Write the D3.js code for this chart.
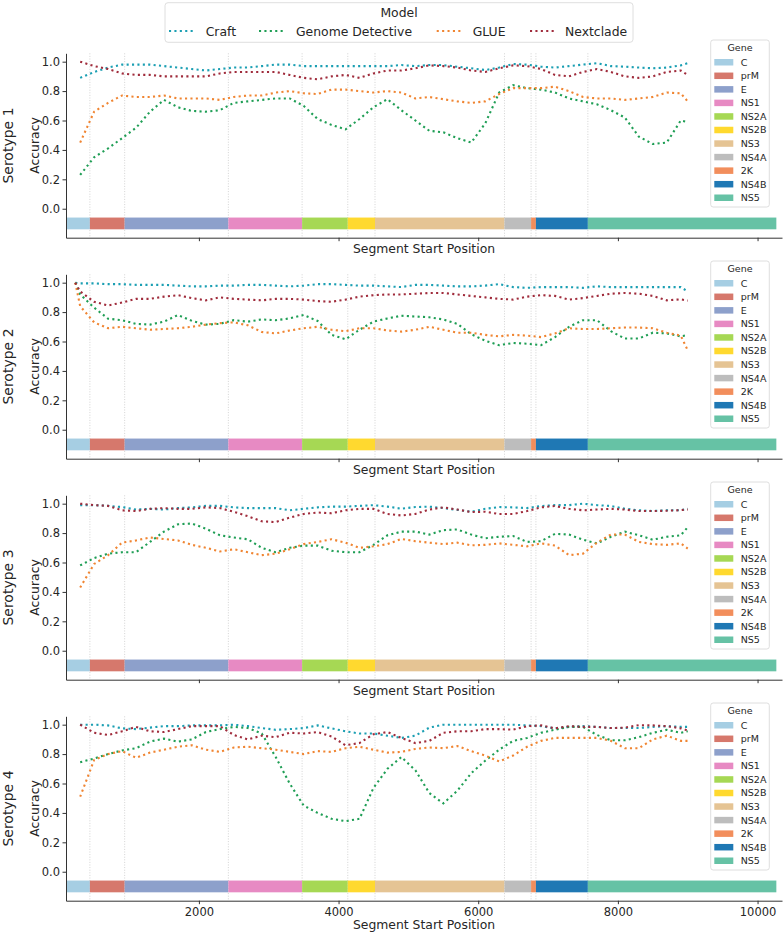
<!DOCTYPE html>
<html lang="en">
<head>
<meta charset="UTF-8">
<title>Accuracy by segment start position</title>
<script src="https://d3js.org/d3.v7.min.js"></script>
<style>
  body { margin: 0; background: #fff; }
  svg text { font-family: "DejaVu Sans", sans-serif; fill: #262626; }
</style>
</head>
<body>
<div id="chart"></div>
<script>
// segment start positions (x values shared by the lines)
var positions = [300, 500, 700, 900, 1100, 1300, 1500, 1700, 1900, 2100, 2300, 2500, 2700, 2900, 3100,
  3300, 3500, 3700, 3900, 4100, 4300, 4500, 4700, 4900, 5100, 5300, 5500, 5700, 5900, 6100, 6300,
  6500, 6700, 6900, 7100, 7300, 7500, 7700, 7900, 8100, 8300, 8500, 8700, 8900, 9000];
// serotype 2 starts a little earlier
var positions2 = [230, 300, 500, 700, 900, 1100, 1300, 1500, 1700, 1900, 2100, 2300, 2500, 2700, 2900, 3100,
  3300, 3500, 3700, 3900, 4100, 4300, 4500, 4700, 4900, 5100, 5300, 5500, 5700, 5900, 6100, 6300,
  6500, 6700, 6900, 7100, 7300, 7500, 7700, 7900, 8100, 8300, 8500, 8700, 8900, 9000];

var models = ["Craft", "Genome Detective", "GLUE", "Nextclade"];
var modelColors = ["#1b9fb3", "#1f9e55", "#f08532", "#a02c3c"];
var serotypes = ["Serotype 1", "Serotype 2", "Serotype 3", "Serotype 4"];

// genes along the genome
var genes = ["C", "prM", "E", "NS1", "NS2A", "NS2B", "NS3", "NS4A", "2K", "NS4B", "NS5"];
var geneStarts = [97, 439, 937, 2422, 3478, 4132, 4522, 6376, 6757, 6826, 7570];
var geneEnds = [439, 937, 2422, 3478, 4132, 4522, 6376, 6757, 6826, 7570, 10269];
var geneColors = ["#a6cee3", "#d6786c", "#8da0cb", "#e78ac3", "#a6d854", "#ffd92f", "#e5c494",
  "#bdbdbd", "#f28e5c", "#1f78b4", "#66c2a5"];

var yTicks = [0.0, 0.2, 0.4, 0.6, 0.8, 1.0];
var xTicks = [2000, 4000, 6000, 8000, 10000];

// Serotype 1
var craft1 = [0.89, 0.93, 0.96, 0.98, 0.98, 0.98, 0.97, 0.96, 0.95, 0.94, 0.95, 0.96, 0.96, 0.97, 0.98,
  0.98, 0.97, 0.97, 0.97, 0.97, 0.97, 0.97, 0.97, 0.977, 0.97, 0.977, 0.977, 0.966, 0.955, 0.943, 0.96,
  0.984, 0.98, 0.966, 0.96, 0.97, 0.98, 0.99, 0.97, 0.966, 0.96, 0.955, 0.96, 0.975, 0.99];
var gd1 = [0.23, 0.35, 0.41, 0.48, 0.55, 0.66, 0.74, 0.69, 0.665, 0.66, 0.67, 0.72, 0.73, 0.74, 0.75,
  0.75, 0.70, 0.61, 0.57, 0.54, 0.61, 0.69, 0.745, 0.67, 0.60, 0.53, 0.52, 0.48, 0.45, 0.58, 0.79,
  0.84, 0.82, 0.81, 0.79, 0.75, 0.73, 0.71, 0.67, 0.62, 0.49, 0.44, 0.45, 0.60, 0.59];
var glue1 = [0.45, 0.66, 0.72, 0.77, 0.76, 0.76, 0.77, 0.75, 0.75, 0.75, 0.74, 0.76, 0.77, 0.77, 0.79,
  0.80, 0.785, 0.78, 0.81, 0.81, 0.80, 0.79, 0.80, 0.79, 0.75, 0.76, 0.745, 0.73, 0.72, 0.73, 0.78,
  0.82, 0.82, 0.82, 0.83, 0.80, 0.76, 0.75, 0.75, 0.74, 0.75, 0.76, 0.79, 0.785, 0.73];
var next1 = [1.0, 0.97, 0.95, 0.92, 0.91, 0.91, 0.90, 0.90, 0.90, 0.90, 0.92, 0.93, 0.93, 0.93, 0.93,
  0.91, 0.89, 0.88, 0.90, 0.91, 0.89, 0.92, 0.94, 0.94, 0.955, 0.975, 0.97, 0.96, 0.94, 0.93, 0.955,
  0.975, 0.97, 0.95, 0.91, 0.90, 0.93, 0.95, 0.93, 0.90, 0.89, 0.90, 0.93, 0.94, 0.91];

// Serotype 2 (first value at position 230)
var craft2 = [1.0, 0.995, 0.995, 0.99, 0.99, 0.985, 0.985, 0.985, 0.98, 0.975, 0.975, 0.98, 0.98, 0.985, 0.985, 0.98,
  0.975, 0.98, 0.99, 0.99, 0.985, 0.98, 0.98, 0.975, 0.97, 0.985, 0.985, 0.98, 0.975, 0.975, 0.98, 0.99,
  0.97, 0.965, 0.97, 0.97, 0.97, 0.965, 0.975, 0.97, 0.97, 0.97, 0.97, 0.97, 0.97, 0.94];
var gd2 = [1.0, 0.92, 0.83, 0.755, 0.745, 0.72, 0.715, 0.735, 0.78, 0.74, 0.715, 0.72, 0.745, 0.735, 0.75, 0.745,
  0.757, 0.78, 0.74, 0.645, 0.615, 0.68, 0.735, 0.757, 0.775, 0.77, 0.765, 0.75, 0.72, 0.65, 0.605, 0.575,
  0.59, 0.585, 0.575, 0.63, 0.70, 0.745, 0.745, 0.67, 0.62, 0.62, 0.66, 0.655, 0.635, 0.645];
var glue2 = [1.0, 0.84, 0.73, 0.69, 0.70, 0.69, 0.68, 0.685, 0.69, 0.70, 0.715, 0.725, 0.73, 0.71, 0.665, 0.655,
  0.675, 0.69, 0.70, 0.68, 0.67, 0.69, 0.69, 0.675, 0.667, 0.68, 0.70, 0.68, 0.66, 0.66, 0.645, 0.635,
  0.645, 0.64, 0.63, 0.655, 0.69, 0.685, 0.685, 0.69, 0.695, 0.695, 0.69, 0.66, 0.64, 0.54];
var next2 = [1.0, 0.94, 0.87, 0.845, 0.865, 0.89, 0.89, 0.905, 0.915, 0.895, 0.88, 0.90, 0.89, 0.885, 0.88, 0.89,
  0.89, 0.885, 0.875, 0.87, 0.885, 0.905, 0.915, 0.92, 0.92, 0.925, 0.93, 0.93, 0.92, 0.91, 0.90, 0.89,
  0.885, 0.905, 0.915, 0.91, 0.885, 0.895, 0.91, 0.925, 0.93, 0.925, 0.91, 0.88, 0.887, 0.878];

// Serotype 3
var craft3 = [0.99, 0.99, 0.985, 0.977, 0.96, 0.965, 0.96, 0.97, 0.975, 0.985, 0.985, 0.975, 0.97, 0.97, 0.97,
  0.955, 0.965, 0.975, 0.98, 0.98, 0.985, 0.99, 0.98, 0.966, 0.977, 0.98, 0.97, 0.958, 0.945, 0.965, 0.977,
  0.975, 0.97, 0.984, 0.99, 0.99, 1.0, 0.99, 0.984, 0.966, 0.955, 0.95, 0.955, 0.955, 0.966];
var gd3 = [0.58, 0.63, 0.66, 0.67, 0.67, 0.74, 0.81, 0.86, 0.865, 0.83, 0.785, 0.77, 0.758, 0.70, 0.67,
  0.70, 0.715, 0.715, 0.68, 0.67, 0.67, 0.72, 0.785, 0.81, 0.81, 0.79, 0.82, 0.825, 0.79, 0.765, 0.775,
  0.78, 0.74, 0.745, 0.795, 0.79, 0.755, 0.73, 0.775, 0.81, 0.785, 0.755, 0.775, 0.785, 0.84];
var glue3 = [0.43, 0.59, 0.65, 0.735, 0.75, 0.77, 0.76, 0.75, 0.72, 0.70, 0.675, 0.69, 0.67, 0.65, 0.66,
  0.69, 0.725, 0.74, 0.758, 0.735, 0.70, 0.71, 0.725, 0.76, 0.745, 0.735, 0.725, 0.735, 0.717, 0.72, 0.73,
  0.72, 0.71, 0.73, 0.715, 0.65, 0.66, 0.735, 0.79, 0.79, 0.74, 0.725, 0.72, 0.73, 0.695];
var next3 = [1.0, 0.99, 0.985, 0.955, 0.95, 0.965, 0.97, 0.965, 0.965, 0.975, 0.97, 0.945, 0.915, 0.88, 0.875,
  0.905, 0.93, 0.94, 0.935, 0.955, 0.965, 0.965, 0.93, 0.92, 0.93, 0.96, 0.975, 0.96, 0.943, 0.945, 0.93,
  0.93, 0.95, 0.975, 0.984, 0.965, 0.955, 0.96, 0.965, 0.96, 0.95, 0.95, 0.952, 0.956, 0.96];

// Serotype 4
var craft4 = [1.0, 1.0, 0.995, 0.975, 0.97, 0.98, 0.99, 0.99, 0.995, 0.995, 0.995, 1.0, 0.99, 0.977, 0.965,
  0.97, 0.977, 0.995, 0.975, 0.955, 0.94, 0.94, 0.925, 0.91, 0.925, 0.98, 1.0, 1.0, 1.0, 1.0, 1.0,
  1.0, 0.995, 0.99, 0.975, 0.985, 0.99, 0.985, 0.977, 0.977, 0.977, 0.985, 0.99, 0.985, 0.985];
var gd4 = [0.745, 0.77, 0.80, 0.825, 0.84, 0.885, 0.905, 0.885, 0.90, 0.95, 0.97, 0.985, 0.977, 0.94, 0.78,
  0.60, 0.45, 0.40, 0.36, 0.344, 0.36, 0.57, 0.70, 0.78, 0.69, 0.535, 0.465, 0.55, 0.67, 0.755, 0.83,
  0.89, 0.91, 0.945, 0.966, 0.985, 0.985, 0.93, 0.894, 0.894, 0.915, 0.945, 0.965, 0.945, 0.955];
var glue4 = [0.51, 0.76, 0.80, 0.82, 0.775, 0.81, 0.83, 0.85, 0.86, 0.83, 0.815, 0.845, 0.85, 0.84, 0.83,
  0.815, 0.80, 0.82, 0.815, 0.84, 0.85, 0.83, 0.81, 0.815, 0.835, 0.845, 0.84, 0.855, 0.82, 0.79, 0.75,
  0.79, 0.85, 0.89, 0.91, 0.91, 0.91, 0.91, 0.89, 0.84, 0.84, 0.90, 0.925, 0.89, 0.89];
var next4 = [1.0, 0.945, 0.93, 0.955, 0.985, 0.955, 0.95, 0.97, 0.99, 0.99, 0.99, 0.93, 0.90, 0.925, 0.915,
  0.945, 0.94, 0.95, 0.92, 0.86, 0.875, 0.935, 0.95, 0.91, 0.875, 0.89, 0.945, 0.955, 0.955, 0.97, 0.97,
  0.966, 0.99, 0.995, 0.975, 0.99, 0.985, 0.985, 0.977, 0.98, 0.997, 0.995, 0.99, 0.975, 0.96];

var panelData = [
  [craft1, gd1, glue1, next1],
  [craft2, gd2, glue2, next2],
  [craft3, gd3, glue3, next3],
  [craft4, gd4, glue4, next4]
];
var panelPositions = [positions, positions2, positions, positions];

// layout
var W = 784, H = 934;
var left = 66, right = 782;
var panelTop0 = 53.3, panelH = 184.4, panelStep = 221;

var svg = d3.select("#chart").append("svg")
  .attr("width", W).attr("height", H);

var x = d3.scaleLinear().domain([97, 10350]).range([left, right]);
var y = d3.scaleLinear().domain([-0.197, 1.057]).range([panelH, 0]);

var line = d3.line()
  .x(function (d) { return x(d[0]); })
  .y(function (d) { return y(d[1]); });

serotypes.forEach(function (name, p) {
  var g = svg.append("g")
    .attr("transform", "translate(0," + (panelTop0 + p * panelStep) + ")");

  // dotted gene boundary lines
  g.selectAll(".vline")
    .data(geneStarts.slice(1))
    .enter().append("line")
    .attr("x1", function (d) { return x(d); })
    .attr("x2", function (d) { return x(d); })
    .attr("y1", 0).attr("y2", panelH)
    .attr("stroke", "#c8c8c8")
    .attr("stroke-width", 0.8)
    .attr("stroke-dasharray", "1,1.6");

  // gene bar
  g.selectAll(".gene")
    .data(genes)
    .enter().append("rect")
    .attr("x", function (d, i) { return x(geneStarts[i]); })
    .attr("width", function (d, i) { return x(geneEnds[i]) - x(geneStarts[i]); })
    .attr("y", y(-0.06))
    .attr("height", y(-0.14) - y(-0.06))
    .attr("fill", function (d, i) { return geneColors[i]; });

  // accuracy lines
  var pos = panelPositions[p];
  panelData[p].forEach(function (vals, m) {
    g.append("path")
      .datum(pos.map(function (px, i) { return [px, vals[i]]; }))
      .attr("fill", "none")
      .attr("stroke", modelColors[m])
      .attr("stroke-width", 2.1)
      .attr("stroke-dasharray", "2.1,3.3")
      .attr("d", line);
  });

  // axes
  var yAxis = g.append("g")
    .attr("transform", "translate(" + left + ",0)")
    .call(d3.axisLeft(y).tickValues(yTicks).tickFormat(d3.format(".1f"))
      .tickSize(3.5).tickPadding(2.5).tickSizeOuter(0));
  var xAxis = g.append("g")
    .attr("transform", "translate(0," + panelH + ")")
    .call(d3.axisBottom(x).tickValues(xTicks).tickFormat(p === 3 ? d3.format("d") : "")
      .tickSize(3.5).tickPadding(3.5).tickSizeOuter(0));
  [yAxis, xAxis].forEach(function (a) {
    a.select(".domain").attr("stroke", "#333").attr("stroke-width", 1);
    a.selectAll(".tick line").attr("stroke", "#333");
    a.selectAll("text").style("font-size", "11.5px").attr("fill", "#262626");
  });

  // axis titles
  g.append("text")
    .attr("x", (left + right) / 2)
    .attr("y", panelH + (p === 3 ? 28.8 : 15.8))
    .attr("text-anchor", "middle")
    .style("font-size", "12.4px")
    .text("Segment Start Position");
  g.append("text")
    .attr("transform", "translate(38.8," + panelH / 2 + ") rotate(-90)")
    .attr("text-anchor", "middle")
    .style("font-size", "12.4px")
    .text("Accuracy");
  g.append("text")
    .attr("transform", "translate(13," + panelH / 2 + ") rotate(-90)")
    .attr("text-anchor", "middle")
    .style("font-size", "14px")
    .text(name);

  // gene legend
  var lg = g.append("g").attr("transform", "translate(710.7,-13.3)");
  lg.append("rect")
    .attr("width", 58.6).attr("height", 167)
    .attr("rx", 2.5)
    .attr("fill", "#fff").attr("fill-opacity", 0.8)
    .attr("stroke", "#d6d6d6").attr("stroke-width", 0.8);
  lg.append("text")
    .attr("x", 29.3).attr("y", 10.8)
    .attr("text-anchor", "middle")
    .style("font-size", "9.5px")
    .text("Gene");
  var items = lg.selectAll(".item")
    .data(genes)
    .enter().append("g")
    .attr("transform", function (d, i) { return "translate(0," + (22.3 + i * 13.55) + ")"; });
  items.append("rect")
    .attr("x", 3.6).attr("y", -3.3)
    .attr("width", 19).attr("height", 6.5)
    .attr("fill", function (d, i) { return geneColors[i]; });
  items.append("text")
    .attr("x", 30).attr("y", 3.4)
    .style("font-size", "9.5px")
    .text(function (d) { return d; });
});

// top model legend
var ml = svg.append("g");
ml.append("rect")
  .attr("x", 165).attr("y", 2.7)
  .attr("width", 468).attr("height", 39.6)
  .attr("rx", 3)
  .attr("fill", "#fff")
  .attr("stroke", "#d6d6d6").attr("stroke-width", 0.8);
ml.append("text")
  .attr("x", 399).attr("y", 17.2)
  .attr("text-anchor", "middle")
  .style("font-size", "12.4px")
  .text("Model");
var legendLineX = [169, 259, 436.7, 530];
var legendTextX = [205.7, 296, 472.7, 565];
models.forEach(function (m, i) {
  ml.append("line")
    .attr("x1", legendLineX[i]).attr("x2", legendLineX[i] + 25)
    .attr("y1", 31).attr("y2", 31)
    .attr("stroke", modelColors[i])
    .attr("stroke-width", 2.1)
    .attr("stroke-dasharray", "2.1,3.3");
  ml.append("text")
    .attr("x", legendTextX[i]).attr("y", 35.5)
    .style("font-size", "12.4px")
    .text(m);
});
</script>
</body>
</html>
